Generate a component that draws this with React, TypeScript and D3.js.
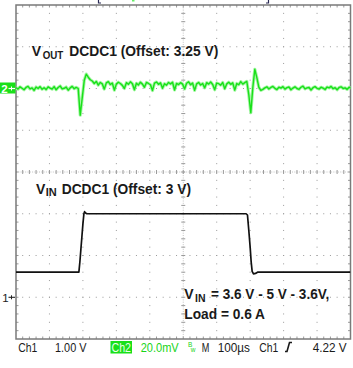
import React from "react";
import * as d3 from "d3";

// ---- data ----
// Ch1 (V_IN): time in µs, voltage in V (1 V/div, offset 3 V)
const ch1Times = [0, 188, 191, 194, 197, 200, 203, 205, 208, 212, 688, 692, 696, 700, 703, 706, 710, 716, 722, 1000];
const ch1Volts = [3.6, 3.6, 3.85, 4.15, 4.45, 4.75, 5.0, 5.05, 5.02, 5.0, 5.0, 4.97, 4.6, 4.2, 3.85, 3.62, 3.56, 3.57, 3.6, 3.6];

// Ch2 (V_OUT ripple): one sample every 6 µs, mV (20 mV/div)
const ch2Step = 6;
const ch2Values = [
  0.4, -0.3, 0.8, 0.1, -0.6, 0.5, 1.0, -0.2, 0.3, -0.9, 0.7, 0.0, 0.9, -0.4, 0.4, -0.5, 0.8, 0.2, -0.3, 0.9,
  -0.6, 0.5, 1.2, -0.2, 0.1, 0.7, -0.8, 0.3, 1.0, -0.1, 0.5,
  0.0, -12.8, -4.5, 3.8, 6.9, 5.4, 4.2, 3.6, 2.4,
  3.4, 1.6, 2.9, 2.2, -0.3, 2.7, 3.3, 1.9, 2.6, -0.8, 2.1, 3.0, 2.4, 1.5, 0.0, 2.8, 2.0, 3.2, 2.3, -0.6,
  2.5, 1.7, 3.0, 2.1, 0.6, 2.9, 2.4, 1.8, -1.0, 2.6, 3.1, 2.0, 2.7, 0.1, 2.3, 1.6, 2.9, 2.2, 3.0, -0.7,
  2.4, 1.9, 2.8, 2.1, -0.2, 2.5, 3.2, 1.8, 2.6, -0.9, 2.2, 2.9, 1.7, 2.4, 0.3, 2.8, 2.1, 3.1, 1.9, -0.6,
  2.6, 2.3, 1.6, 2.9, -0.1, 2.2, 3.0, 2.0, 2.7, -0.8, 2.4, 1.8, 3.3, 2.1, 2.8,
  3.4, -3.0, -11.6, 0.5, 9.2, 5.2, 0.6, -0.9, -0.4,
  0.3, 0.8, -0.2, 0.5, 1.0, 0.1, -0.5, 0.6, 0.2, 0.9, -0.3, 0.4, 0.7, -0.6, 0.2, 0.8, 0.0, -0.4, 0.6, 1.1,
  -0.2, 0.3, 0.5, -0.7, 0.4, 0.9, 0.1, -0.3, 0.6, 0.2, -0.5, 0.7, 0.3, 1.0, -0.1, 0.4, -0.6, 0.5, 0.8, 0.0,
  0.3, -0.4, 0.6, 0.2,
];

const ch1Offset = 3; // V
const ch1Position = -3; // div
const ch1VoltsPerDiv = 1;
const ch2Position = 2; // div
const ch2MvPerDiv = 20;

const statusLeft = [
  { text: "Ch1", x: 18.3, w: 19 },
  { text: "1.00 V", x: 55, w: 31.5 },
];
const statusRight = [
  { text: "M", x: 201.7, w: 7.6 },
  { text: "100µs", x: 217.7, w: 32.3 },
  { text: "Ch1", x: 259.3, w: 19 },
  { text: "4.22 V", x: 312.7, w: 34 },
];

export default function App() {
  const W = 353, H = 368;
  const L = 16, R = 350.5, T = 5, B = 339;
  const x = d3.scaleLinear().domain([0, 1000]).range([L, R]);
  const yDiv = d3.scaleLinear().domain([-4, 4]).range([B, T]);
  const dx = (x(100) - x(0)) / 5;
  const dy = (yDiv(0) - yDiv(1)) / 5;
  const cx = x(500), cy = yDiv(0);

  const ch1Line = d3.line<number>()
    .x((_, i) => x(ch1Times[i]))
    .y((v) => yDiv(ch1Position + (v - ch1Offset) / ch1VoltsPerDiv));
  const ch2Line = d3.line<number>()
    .x((_, i) => x(i * ch2Step))
    .y((v) => yDiv(ch2Position + v / ch2MvPerDiv));

  const grid: React.ReactNode[] = [];
  for (let i = 1; i < 10; i++) {
    if (i === 5) continue;
    const gx = x(i * 100);
    for (let k = 1; k < 40; k++) {
      grid.push(<rect key={`v${i}-${k}`} x={gx - 0.5} y={T + k * dy - 0.5} width={1} height={1} fill="#9a9a9a" />);
    }
  }
  for (let j = 1; j < 8; j++) {
    if (j === 4) continue;
    const gy = yDiv(j - 4);
    for (let k = 1; k < 50; k++) {
      grid.push(<rect key={`h${j}-${k}`} x={L + k * dx - 0.5} y={gy - 0.5} width={1} height={1} fill="#9a9a9a" />);
    }
  }
  const ticks: React.ReactNode[] = [];
  const tc = "#9a9a9a";
  for (let k = 1; k < 50; k++) {
    const tx = L + k * dx;
    ticks.push(<line key={`ch${k}`} x1={tx} x2={tx} y1={cy - 2} y2={cy + 2} stroke={tc} strokeWidth={1} />);
    ticks.push(<line key={`tt${k}`} x1={tx} x2={tx} y1={T} y2={T + 2.5} stroke={tc} strokeWidth={1} />);
    ticks.push(<line key={`tb${k}`} x1={tx} x2={tx} y1={B - 2.5} y2={B} stroke={tc} strokeWidth={1} />);
  }
  for (let k = 1; k < 40; k++) {
    const ty = T + k * dy;
    ticks.push(<line key={`cv${k}`} x1={cx - 2} x2={cx + 2} y1={ty} y2={ty} stroke={tc} strokeWidth={1} />);
    ticks.push(<line key={`tl${k}`} x1={L} x2={L + 2.5} y1={ty} y2={ty} stroke={tc} strokeWidth={1} />);
    ticks.push(<line key={`tr${k}`} x1={R - 2.5} x2={R} y1={ty} y2={ty} stroke={tc} strokeWidth={1} />);
  }

  const font = "'Liberation Sans', Arial, sans-serif";
  const titleSize = 14;
  const subSize = 11.5;

  return (
    <svg width={W} height={H} viewBox={`0 0 ${W} ${H}`} style={{ position: "absolute", left: 0, top: 0, background: "#fff" }}>
      <defs>
        <clipPath id="plotClip">
          <rect x={L} y={T} width={R - L} height={B - T} />
        </clipPath>
      </defs>
      <rect x={0} y={0} width={W} height={H} fill="#fff" />
      {grid}
      <line x1={L} x2={R} y1={cy} y2={cy} stroke="#c4c4c4" strokeWidth={1} strokeDasharray="1,1.3" />
      <line x1={cx} x2={cx} y1={T} y2={B} stroke="#c4c4c4" strokeWidth={1} strokeDasharray="1,1.3" />
      {ticks}
      <rect x={L} y={T} width={R - L} height={B - T} fill="none" stroke="#7a7a7a" strokeWidth={1.5} />

      {/* top markers */}
      <path d={`M${98.5},0 V3 H101`} fill="none" stroke="#2a2a55" strokeWidth={1.2} />
      <path d={`M${268.5},0 V3 H266`} fill="none" stroke="#2a2a55" strokeWidth={1.2} />
      <rect x={132} y={0} width={2.5} height={1.5} fill="#66ee66" />

      {/* traces */}
      <g clipPath="url(#plotClip)">
        <path d={ch2Line(ch2Values) || ""} fill="none" stroke="#a6f5a6" strokeWidth={3.2} strokeLinejoin="round" />
        <path d={ch2Line(ch2Values) || ""} fill="none" stroke="#19e019" strokeWidth={1.4} strokeLinejoin="round" />
        <path d={ch1Line(ch1Volts) || ""} fill="none" stroke="#111" strokeWidth={1.7} strokeLinejoin="round" />
      </g>

      {/* channel markers */}
      <rect x={0} y={82.5} width={15.5} height={11} fill="#19e019" />
      <text x={1.2} y={92.6} fontFamily={font} fontSize={11.5} fill="#fff" fontWeight="bold">2</text>
      <line x1={8.5} x2={15} y1={88.5} y2={88.5} stroke="#fff" strokeWidth={1.2} />
      <line x1={11.5} x2={11.5} y1={86.5} y2={90.5} stroke="#fff" strokeWidth={1} />
      <text x={2.3} y={301.8} fontFamily={font} fontSize={11.5} fill="#222">1</text>
      <line x1={8.5} x2={15} y1={297.3} y2={297.3} stroke="#222" strokeWidth={1.1} />
      <line x1={11.5} x2={11.5} y1={295.3} y2={299.3} stroke="#222" strokeWidth={1} />

      {/* titles */}
      <g fontFamily={font} fontWeight="bold" fill="#1a1a1a">
        <text x={31.7} y={56.3} fontSize={titleSize}>V</text>
        <text x={42.7} y={58.6} fontSize={subSize} textLength={20.6} lengthAdjust="spacingAndGlyphs">OUT</text>
        <text x={69.3} y={56.3} fontSize={titleSize} textLength={149} lengthAdjust="spacingAndGlyphs">DCDC1 (Offset: 3.25 V)</text>

        <text x={36} y={193.5} fontSize={titleSize}>V</text>
        <text x={45.7} y={196.2} fontSize={subSize} textLength={11} lengthAdjust="spacingAndGlyphs">IN</text>
        <text x={61.7} y={193.5} fontSize={titleSize} textLength={129.3} lengthAdjust="spacingAndGlyphs">DCDC1 (Offset: 3 V)</text>

        <text x={184.3} y={299.3} fontSize={titleSize}>V</text>
        <text x={195} y={302.4} fontSize={subSize} textLength={10.5} lengthAdjust="spacingAndGlyphs">IN</text>
        <text x={211} y={299.3} fontSize={titleSize} textLength={118.3} lengthAdjust="spacingAndGlyphs">= 3.6 V - 5 V - 3.6V,</text>
        <text x={184.3} y={319.3} fontSize={titleSize} textLength={80.7} lengthAdjust="spacingAndGlyphs">Load = 0.6 A</text>
      </g>

      {/* status bar */}
      <g fontFamily={font} fontSize={13.5} fill="#1a1a1a">
        {statusLeft.map((s) => (
          <text key={s.text + s.x} x={s.x} y={352} textLength={s.w} lengthAdjust="spacingAndGlyphs">{s.text}</text>
        ))}
        <rect x={110.5} y={341} width={21.5} height={12.5} fill="#19e019" />
        <text x={111.5} y={352} textLength={19.5} lengthAdjust="spacingAndGlyphs" fill="#e8ffe8">Ch2</text>
        <text x={140.7} y={352} textLength={38} lengthAdjust="spacingAndGlyphs" fill="#19d419">20.0mV</text>
        <text x={188} y={347} fontSize={6.5} fill="#19d419">
          <tspan>B</tspan>
          <tspan dx={-1.5} dy={4.5}>w</tspan>
        </text>
        {statusRight.map((s) => (
          <text key={s.text + s.x} x={s.x} y={352} textLength={s.w} lengthAdjust="spacingAndGlyphs">{s.text}</text>
        ))}
        <path d="M285,351.5 H287 L289.5,342.5 H292" fill="none" stroke="#1a1a1a" strokeWidth={1.6} />
      </g>
    </svg>
  );
}
